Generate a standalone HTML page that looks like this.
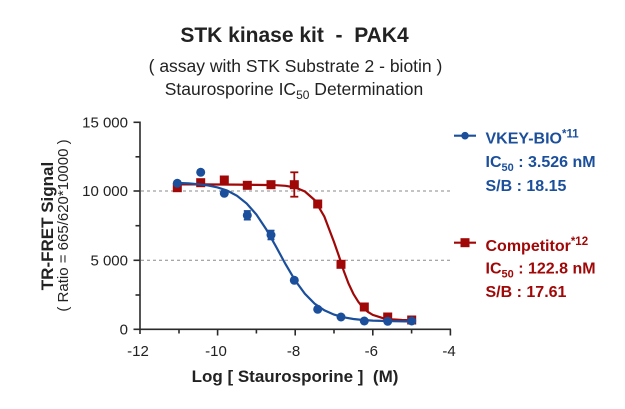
<!DOCTYPE html>
<html><head><meta charset="utf-8"><style>
html,body{margin:0;padding:0;background:#fff;}
svg{display:block;}
text{font-family:"Liberation Sans",Arial,sans-serif;}
</style></head><body>
<svg width="625" height="409" viewBox="0 0 625 409" xmlns="http://www.w3.org/2000/svg">
<!-- titles -->
<text x="294.5" y="42" font-size="21" font-weight="bold" fill="#222" text-anchor="middle" xml:space="preserve" style="white-space:pre">STK kinase kit  -  PAK4</text>
<text x="295.5" y="72" font-size="17.5" fill="#222" text-anchor="middle">( assay with STK Substrate 2 - biotin )</text>
<text x="294" y="95" font-size="17.5" fill="#222" text-anchor="middle">Staurosporine IC<tspan font-size="12" dy="4">50</tspan><tspan dy="-4"> Determination</tspan></text>

<!-- grid -->
<line x1="141" y1="191" x2="451" y2="191" stroke="#8a8a8a" stroke-width="1" stroke-dasharray="3,3"/>
<line x1="141" y1="260.3" x2="451" y2="260.3" stroke="#8a8a8a" stroke-width="1" stroke-dasharray="3,3"/>

<!-- axes -->
<g stroke="#2a2a2a" stroke-width="1.6" fill="none">
<line x1="140" y1="121.5" x2="140" y2="334"/>
<line x1="133.5" y1="329.3" x2="451" y2="329.3"/>
<!-- y ticks -->
<line x1="133.5" y1="122.3" x2="140" y2="122.3"/>
<line x1="135.5" y1="156.8" x2="140" y2="156.8"/>
<line x1="133.5" y1="191" x2="140" y2="191"/>
<line x1="135.5" y1="225.7" x2="140" y2="225.7"/>
<line x1="133.5" y1="260.3" x2="140" y2="260.3"/>
<line x1="135.5" y1="295" x2="140" y2="295"/>
<!-- x ticks -->
<line x1="179" y1="329.3" x2="179" y2="333.5"/>
<line x1="217.6" y1="329.3" x2="217.6" y2="335.5"/>
<line x1="256.4" y1="329.3" x2="256.4" y2="333.5"/>
<line x1="295.2" y1="329.3" x2="295.2" y2="335.5"/>
<line x1="334" y1="329.3" x2="334" y2="333.5"/>
<line x1="372.8" y1="329.3" x2="372.8" y2="335.5"/>
<line x1="411.6" y1="329.3" x2="411.6" y2="333.5"/>
<line x1="450.4" y1="329.3" x2="450.4" y2="335.5"/>
</g>

<!-- y tick labels -->
<g font-size="15" fill="#222" text-anchor="end">
<text x="128" y="127.5">15 000</text>
<text x="128" y="196.2">10 000</text>
<text x="128" y="265.5">5 000</text>
<text x="128" y="334.5">0</text>
</g>
<!-- x tick labels -->
<g font-size="15" fill="#222" text-anchor="middle">
<text x="138" y="356">-12</text>
<text x="216" y="356">-10</text>
<text x="293.5" y="356">-8</text>
<text x="371.3" y="356">-6</text>
<text x="449" y="356">-4</text>
</g>
<text x="295" y="382" font-size="17" font-weight="bold" fill="#222" text-anchor="middle" xml:space="preserve" style="white-space:pre">Log [ Staurosporine ]  (M)</text>

<text transform="translate(53,226) rotate(-90)" font-size="17" font-weight="bold" fill="#222" text-anchor="middle">TR-FRET Signal</text>
<text transform="translate(68,225.5) rotate(-90)" font-size="15" fill="#222" text-anchor="middle">( Ratio = 665/620*10000 )</text>

<!-- red series -->
<g stroke="#a00808" fill="#a00808">
<polyline fill="none" stroke-width="2.2" points="178.8,184.4 198.2,184.4 217.6,184.5 237,184.6 256.4,184.9 266.1,185 275.8,185.2 285.5,185.8 295.2,187.5 304.9,191.5 314.6,200 324.3,216.5 334,242 338.9,256 343.7,270.8 348.5,283.5 353.4,293.9 358.3,301.8 363.1,307.8 368,312 372.8,314.9 382.5,318 392.2,319.4 401.9,320 411.6,320.3"/>
<line x1="294.3" y1="172.3" x2="294.3" y2="196.7" stroke-width="1.8"/>
<line x1="290.3" y1="172.3" x2="298.3" y2="172.3" stroke-width="1.8"/>
<line x1="290.3" y1="196.7" x2="298.3" y2="196.7" stroke-width="1.8"/>
<g stroke="none">
<rect x="172.8" y="183.2" width="9" height="9"/>
<rect x="196.2" y="178.2" width="9" height="9"/>
<rect x="219.8" y="175.5" width="9" height="9"/>
<rect x="242.8" y="180.8" width="9" height="9"/>
<rect x="266.5" y="180.2" width="9" height="9"/>
<rect x="289.8" y="180.2" width="9" height="9"/>
<rect x="313.2" y="199.5" width="9" height="9"/>
<rect x="336.5" y="259.8" width="9" height="9"/>
<rect x="359.8" y="302.5" width="9" height="9"/>
<rect x="383.2" y="312.5" width="9" height="9"/>
<rect x="407.2" y="315.5" width="9" height="9"/>
</g>
</g>

<!-- blue series -->
<g stroke="#1b4f9c" fill="#1b4f9c">
<polyline fill="none" stroke-width="2.2" points="178.8,183 188.5,183.4 198.2,184.2 207.9,185.4 217.6,187.4 227.3,190.6 237,195.8 246.7,203.5 256.4,214.5 266.1,229.1 275.8,246.2 285.5,264.1 295.2,280.5 304.9,293.8 314.6,303.6 324.3,310.3 334,314.6 343.7,317.3 353.4,319 363.1,320 372.8,320.6 392.2,321.2 411.6,321.5"/>
<line x1="247.3" y1="211" x2="247.3" y2="219.6" stroke-width="1.8"/>
<line x1="243.8" y1="211" x2="250.8" y2="211" stroke-width="1.8"/>
<line x1="243.8" y1="219.6" x2="250.8" y2="219.6" stroke-width="1.8"/>
<line x1="271" y1="230.6" x2="271" y2="239.4" stroke-width="1.8"/>
<line x1="267.5" y1="230.6" x2="274.5" y2="230.6" stroke-width="1.8"/>
<line x1="267.5" y1="239.4" x2="274.5" y2="239.4" stroke-width="1.8"/>
<g stroke="none">
<circle cx="177.3" cy="183.3" r="4.5"/>
<circle cx="200.7" cy="172.3" r="4.5"/>
<circle cx="224.3" cy="193.3" r="4.5"/>
<circle cx="247.3" cy="215.3" r="4.5"/>
<circle cx="271" cy="235" r="4.5"/>
<circle cx="294.3" cy="280.3" r="4.5"/>
<circle cx="317.7" cy="309.3" r="4.5"/>
<circle cx="341" cy="317" r="4.5"/>
<circle cx="364.3" cy="321" r="4.5"/>
<circle cx="387.7" cy="321.3" r="4.5"/>
<circle cx="411.7" cy="321" r="4.5"/>
</g>
</g>

<!-- legend -->
<g fill="#1b4f9c" font-weight="bold">
<line x1="454" y1="135.7" x2="476" y2="135.7" stroke="#1b4f9c" stroke-width="2.2"/>
<circle cx="465" cy="135.7" r="3.8"/>
<text x="485.5" y="143.3" font-size="16">VKEY-BIO<tspan font-size="11.5" dy="-6">*11</tspan></text>
<text x="485.5" y="167" font-size="16">IC<tspan font-size="11" dy="4">50</tspan><tspan dy="-4"> : 3.526 nM</tspan></text>
<text x="485.5" y="191" font-size="16">S/B : 18.15</text>
</g>
<g fill="#a00808" font-weight="bold">
<line x1="454" y1="242.7" x2="476" y2="242.7" stroke="#a00808" stroke-width="2.2"/>
<rect x="460.5" y="238.2" width="9" height="9"/>
<text x="485.5" y="251" font-size="16">Competitor<tspan font-size="11.5" dy="-6">*12</tspan></text>
<text x="485.5" y="273.3" font-size="16">IC<tspan font-size="11" dy="4">50</tspan><tspan dy="-4"> : 122.8 nM</tspan></text>
<text x="485.5" y="297" font-size="16">S/B : 17.61</text>
</g>
</svg>
</body></html>
